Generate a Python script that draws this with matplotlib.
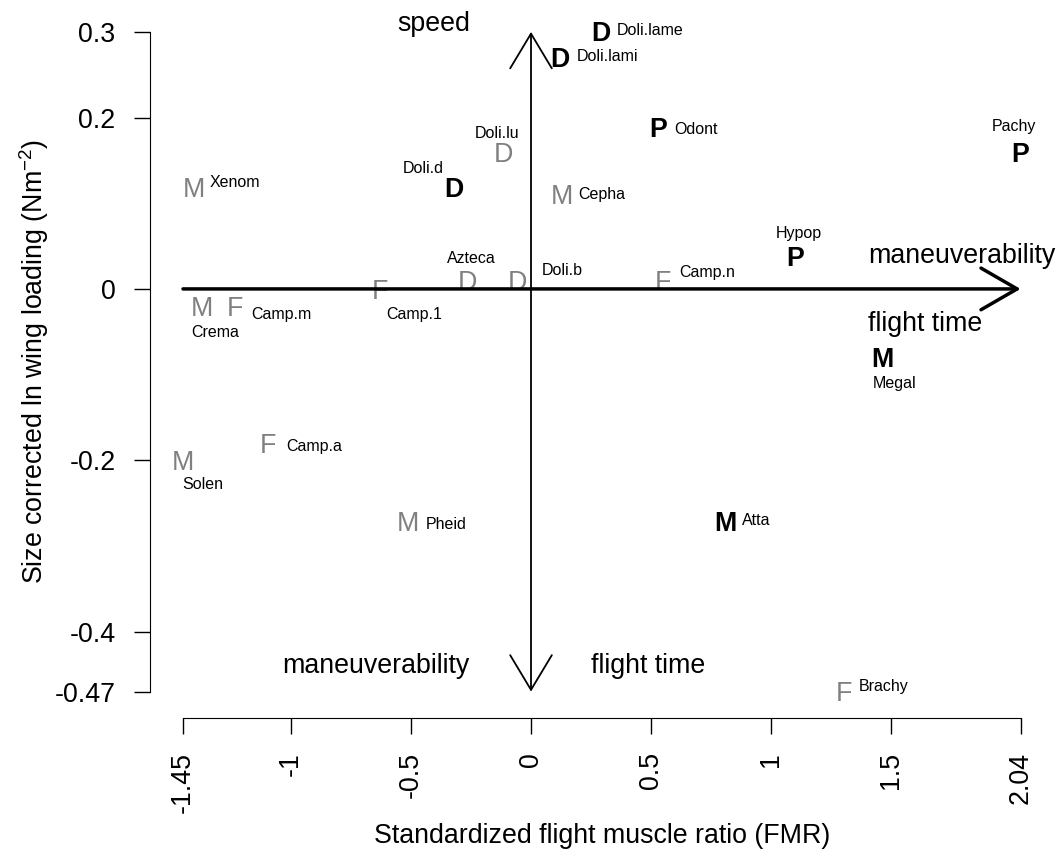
import matplotlib
matplotlib.use("Agg")
import matplotlib.pyplot as plt
from matplotlib.patches import FancyArrowPatch, ArrowStyle

plt.rcParams['font.family'] = ['Liberation Sans', 'DejaVu Sans']
plt.rcParams['mathtext.fontset'] = 'custom'
plt.rcParams['mathtext.rm'] = 'Liberation Sans'
plt.rcParams['mathtext.it'] = 'Liberation Sans:italic'
plt.rcParams['mathtext.bf'] = 'Liberation Sans:bold'
plt.rcParams['axes.unicode_minus'] = False

# ---- data -------------------------------------------------------------
species = ["Doli.lame", "Doli.lami", "Doli.lu", "Doli.d", "Xenom", "Cepha",
           "Azteca", "Doli.b", "Camp.1", "Crema", "Camp.m", "Camp.a",
           "Solen", "Pheid", "Odont", "Pachy", "Hypop", "Camp.n",
           "Megal", "Atta", "Brachy"]
subfamily = ["D", "D", "D", "D", "M", "M",
             "D", "D", "F", "M", "F", "F",
             "M", "M", "P", "P", "P", "F",
             "M", "M", "F"]
highlighted = [True, True, False, True, False, False,
               False, False, False, False, False, False,
               False, False, True, True, True, False,
               True, True, False]
fmr = [0.292, 0.121, -0.113, -0.321, -1.404, 0.129,
       -0.263, -0.058, -0.629, -1.371, -1.233, -1.096,
       -1.450, -0.513, 0.529, 2.040, 1.100, 0.550,
       1.463, 0.808, 1.304]
wing_loading = [0.300, 0.270, 0.159, 0.119, 0.119, 0.110,
                0.0105, 0.0105, 0.000, -0.020, -0.020, -0.180,
                -0.200, -0.271, 0.189, 0.159, 0.0385, 0.0095,
                -0.0805, -0.271, -0.470]

x_ticks = [-1.45, -1, -0.5, 0, 0.5, 1, 1.5, 2.04]
x_tick_labels = ["-1.45", "-1", "-0.5", "0", "0.5", "1", "1.5", "2.04"]
y_ticks = [0.3, 0.2, 0, -0.2, -0.4, -0.47]
y_tick_labels = ["0.3", "0.2", "0", "-0.2", "-0.4", "-0.47"]

# name placement around each letter: (horizontal alignment, dx, dy) in pixels,
# dy measured downwards from the letter centre
name_place = {
    "Doli.lame": ("left", 16, -3), "Doli.lami": ("left", 17, -2.5),
    "Doli.lu": ("center", -7, -20), "Doli.d": ("center", -31, -20),
    "Xenom": ("left", 16, -6), "Cepha": ("left", 16, -1.5),
    "Azteca": ("center", 3, -23), "Doli.b": ("left", 25, -11),
    "Camp.1": ("center", 34, 24), "Crema": ("center", 13, 25),
    "Camp.m": ("left", 16, 7), "Camp.a": ("left", 18, 2),
    "Solen": ("center", 19.5, 23), "Pheid": ("left", 18, 2),
    "Odont": ("left", 16, 1), "Pachy": ("center", -6.5, -27.5),
    "Hypop": ("center", 4, -24), "Camp.n": ("left", 16, -10),
    "Megal": ("center", 12, 24), "Atta": ("left", 17, -2),
    "Brachy": ("left", 15, -6),
}

BIG = 19.3
SMALL = 11.5
GRAY = "#808080"
DPI = 100

fig = plt.figure(figsize=(10.6, 8.49), dpi=DPI)
ax = fig.add_axes([149.5 / 1060, 1 - 718 / 849, 904.6 / 1060, 712.5 / 849])

# R-style 4% axis padding
xmin, xmax = min(fmr), max(fmr)
ymin, ymax = min(wing_loading), max(wing_loading)
xpad, ypad = 0.04 * (xmax - xmin), 0.04 * (ymax - ymin)
ax.set_xlim(xmin - xpad, xmax + xpad)
ax.set_ylim(ymin - ypad, ymax + ypad)

# letters for each species, names next to them
big_half_cap = 0.716 * BIG * DPI / 72 / 2
small_half_cap = 0.716 * SMALL * DPI / 72 / 2
for name, letter, hl, x, y in zip(species, subfamily, highlighted, fmr, wing_loading):
    ax.annotate(letter, (x, y), xytext=(0, -big_half_cap), textcoords="offset pixels",
                ha="center", va="baseline", fontsize=BIG,
                fontweight="bold" if hl else "normal",
                color="black" if hl else GRAY, zorder=2, annotation_clip=False)
    ha, dx, dy = name_place[name]
    ax.annotate(name, (x, y), xytext=(dx, -dy - small_half_cap), textcoords="offset pixels",
                ha=ha, va="baseline", fontsize=SMALL, color="black", zorder=2,
                annotation_clip=False)

# trait axes drawn as arrows through the origin
head = ArrowStyle("->", head_length=26, head_width=15)
ax.add_patch(FancyArrowPatch((xmin, 0), (xmax, 0), arrowstyle=head, mutation_scale=1,
                             lw=2.5, color="black", shrinkA=0, shrinkB=0, zorder=3,
                             clip_on=False))
head2 = ArrowStyle("<->", head_length=25, head_width=15)
ax.add_patch(FancyArrowPatch((0, ymin), (0, ymax), arrowstyle=head2, mutation_scale=1,
                             lw=1.3, color="black", shrinkA=0, shrinkB=0, zorder=3,
                             clip_on=False))

ax.text(-0.404, 0.3092, "speed", fontsize=BIG, ha="center", va="center")
ax.text(1.794, 0.0385, "maneuverability", fontsize=BIG, ha="center", va="center", clip_on=False)
ax.text(1.642, -0.0408, "flight time", fontsize=BIG, ha="center", va="center")
ax.text(-0.647, -0.440, "maneuverability", fontsize=BIG, ha="center", va="center")
ax.text(0.490, -0.440, "flight time", fontsize=BIG, ha="center", va="center")

# axes in base-graphics style
for side in ("top", "right"):
    ax.spines[side].set_visible(False)
ax.spines["left"].set_bounds(ymin, ymax)
ax.spines["bottom"].set_bounds(xmin, xmax)
ax.set_xticks(x_ticks)
ax.set_xticklabels(x_tick_labels, rotation=90)
ax.set_yticks(y_ticks)
ax.set_yticklabels(y_tick_labels)
ax.tick_params(axis="both", direction="out", length=11.5, width=1, labelsize=BIG, pad=13)

ax.set_xlabel("Standardized flight muscle ratio (FMR)", fontsize=BIG)
ax.xaxis.set_label_coords(0.5, -0.1474)
ax.set_ylabel(r"Size corrected ln wing loading (Nm$^{-2}$)", fontsize=BIG)
ax.yaxis.set_label_coords(-0.1092, 0.5)

fig.savefig("out.png", dpi=DPI)
